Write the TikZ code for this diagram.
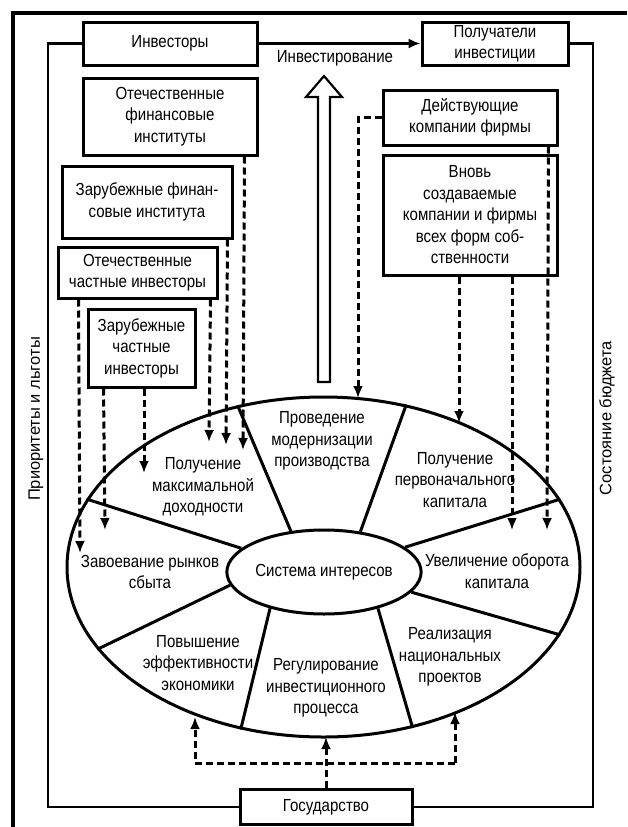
\documentclass[tikz,border=0pt]{standalone}
\usepackage{fontspec}
\setmainfont[FakeStretch=0.86]{Liberation Sans}
\newfontfamily\sidefont{Liberation Sans}
\usepackage{tikz}
\usetikzlibrary{shapes.geometric}
\usetikzlibrary{arrows.meta}

\begin{document}
\begin{tikzpicture}[x=1pt,y=-1pt,
        font=\fontsize{17.5}{21.5}\selectfont,
        box/.style={draw,line width=3pt,align=center,inner sep=0pt},
        link/.style={line width=2.2pt},
        flow/.style={line width=3pt,dash pattern=on 7pt off 4pt,-{Latex[length=12pt,width=10pt]}},
        sector/.style={align=center,inner sep=0pt},
        side/.style={rotate=90,font=\sidefont\fontsize{16.5}{20}\selectfont}]
        \useasboundingbox (0,0) rectangle (627,827);
        \draw[line width=4pt] (13,827)--(13,13)--(627,13);

        \node[box,minimum width=174pt,minimum height=43pt] (inv) at (170,43.5) {Инвесторы};
        \node[box,minimum width=146pt,minimum height=43pt] (poluch) at (495,43.5) {Получатели\\инвестиции};
        \node[box,minimum width=174pt,minimum height=77pt] (otfin) at (170,116.5) {Отечественные\\финансовые\\институты};
        \node[box,minimum width=170pt,minimum height=72pt] (zarfin) at (147,202) {Зарубежные финан-\\совые института};
        \node[box,minimum width=159pt,minimum height=51pt] (otchast) at (137.5,272.5) {Отечественные\\частные инвесторы};
        \node[box,minimum width=107pt,minimum height=78pt] (zarchast) at (141.5,348) {Зарубежные\\частные\\инвесторы};
        \node[box,minimum width=174pt,minimum height=55pt] (deyst) at (470,117.5) {Действующие\\компании фирмы};
        \node[box,minimum width=174pt,minimum height=120pt] (vnov) at (470,215) {Вновь\\создаваемые\\компании и фирмы\\всех форм соб-\\ственности};
        \node[box,minimum width=172pt,minimum height=35pt] (gos) at (326,807) {Государство};

        \draw[link] (inv.west)--(48,43.5)|-(gos.west);
        \draw[link] (poluch.east)--(593,43.5)|-(gos.east);
        \draw[link,-{Latex[length=12pt,width=10pt]}] (inv.east)--(poluch.west);
        \node (invest) at (335,58) {Инвестирование};
        \draw[line width=2.2pt] (318,382)--(318,97)--(306,97)--(324,76)--(342,97)--(330,97)--(330,382)--cycle;

        \node[side] (prior) at (36,419) {Приоритеты и льготы};
        \node[side] (budget) at (607,418) {Состояние бюджета};

        \node[draw,ellipse,line width=3pt,minimum width=513pt,minimum height=340pt] (outer) at (323.5,567) {};
        \node[draw,ellipse,line width=3pt,fill=white,inner sep=0pt,minimum width=148pt,minimum height=84pt] (core) at (324,572) {Система интересов};
        \foreach \a/\b in {129.4/118.7,48.9/63.1,17.2/16.8,-13/-16.2,-34.9/-61.4,214.3/243.3,188.8/200.6,164.2/164.1}
            \draw[line width=3pt] (core.\a)--(outer.\b);

        \node[sector] (modern) at (322,441) {Проведение\\модернизации\\производства};
        \node[sector] (dohod) at (203,487) {Получение\\максимальной\\доходности};
        \node[sector] (pervon) at (455,480) {Получение\\первоначального\\капитала};
        \node[sector] (rynki) at (150,572) {Завоевание рынков\\сбыта};
        \node[sector] (oborot) at (497,571) {Увеличение оборота\\капитала};
        \node[sector] (effekt) at (198,663) {Повышение\\эффективности\\экономики};
        \node[sector] (regul) at (326,688) {Регулирование\\инвестиционного\\процесса};
        \node[sector] (nacpr) at (450,657) {Реализация\\национальных\\проектов};

        \coordinate (modtip) at (358,398);
        \coordinate (dohtip1) at (243,450);
        \coordinate (dohtip2) at (226,445);
        \coordinate (dohtip3) at (209,442);
        \coordinate (dohtip4) at (144,473);
        \coordinate (ryntip1) at (80,553);
        \coordinate (ryntip2) at (105,530);
        \coordinate (pertip) at (459,423);
        \coordinate (obtip1) at (512,530);
        \coordinate (obtip2) at (547,530);
        \coordinate (efftip) at (195,717);
        \coordinate (regtip) at (326,737);
        \coordinate (nactip) at (455,712);
        \coordinate (gl) at (195,763);
        \coordinate (gr) at (455,763);

        \draw[flow] ([xshift=-14pt]otfin.south east)--(dohtip1);
        \draw[flow] ([xshift=-6pt]zarfin.south east)--(dohtip2);
        \draw[flow] ([xshift=-8pt]otchast.south east)--(dohtip3);
        \draw[flow] ([xshift=22pt]otchast.south west)--(ryntip1);
        \draw[flow] ([xshift=17pt]zarchast.south west)--(ryntip2);
        \draw[flow] ([xshift=2.5pt]zarchast.south)--(dohtip4);
        \draw[flow] (deyst.west)-|(modtip);
        \draw[flow] ([xshift=-10pt]deyst.south east)--(obtip2);
        \draw[flow] ([xshift=-11pt]vnov.south)--(pertip);
        \draw[flow] ([xshift=42pt]vnov.south)--(obtip1);
        \draw[flow] (gos.north)--(regtip);
        \draw[flow] (gr)--(gl)--(efftip);
        \draw[flow] (gr)--(nactip);
    \end{tikzpicture}
\end{document}
